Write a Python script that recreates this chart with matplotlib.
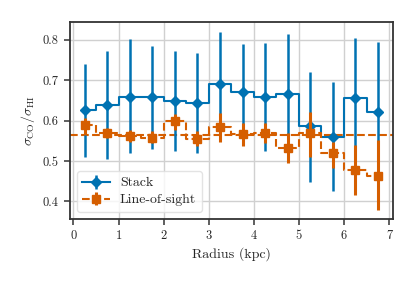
import matplotlib
matplotlib.use("Agg")
import matplotlib.pyplot as plt
import numpy as np

radius = [0.25, 0.75, 1.25, 1.75, 2.25, 2.75, 3.25, 3.75, 4.25, 4.75, 5.25, 5.75, 6.25, 6.75]

stack_val = [0.625, 0.639, 0.659, 0.658, 0.649, 0.643, 0.690, 0.671, 0.659, 0.666, 0.587, 0.559, 0.655, 0.622]
stack_hi = [0.740, 0.772, 0.801, 0.784, 0.772, 0.766, 0.820, 0.789, 0.791, 0.813, 0.721, 0.695, 0.805, 0.794]
stack_lo = [0.511, 0.505, 0.519, 0.529, 0.525, 0.519, 0.560, 0.550, 0.524, 0.520, 0.449, 0.425, 0.500, 0.450]

los_val = [0.589, 0.569, 0.563, 0.557, 0.600, 0.554, 0.585, 0.567, 0.569, 0.532, 0.569, 0.519, 0.477, 0.463]
los_hi = [0.606, 0.581, 0.577, 0.573, 0.617, 0.573, 0.618, 0.594, 0.594, 0.569, 0.622, 0.548, 0.540, 0.552]
los_lo = [0.565, 0.557, 0.548, 0.544, 0.577, 0.536, 0.548, 0.536, 0.544, 0.495, 0.511, 0.482, 0.416, 0.379]

los_mean = 0.565

x_ticks = [0, 1, 2, 3, 4, 5, 6, 7]
y_ticks = [0.4, 0.5, 0.6, 0.7, 0.8]

plt.rcParams['font.family'] = 'serif'
plt.rcParams['font.serif'] = ['cmr10']
plt.rcParams['mathtext.fontset'] = 'cm'
plt.rcParams['axes.formatter.use_mathtext'] = True

blue = '#0072B2'
orange = '#D55E00'
textc = '#262626'

fig = plt.figure(figsize=(4.16, 2.85), dpi=100)
ax = fig.add_axes([0.168, 0.232, 0.777, 0.690])

ax.grid(True, color='#d0d0d0', linewidth=1.0, zorder=0)
ax.set_axisbelow(True)

sv = np.array(stack_val)
lv = np.array(los_val)
s_err = [sv - np.array(stack_lo), np.array(stack_hi) - sv]
l_err = [lv - np.array(los_lo), np.array(los_hi) - lv]

ax.errorbar(radius, stack_val, yerr=s_err, color=blue, marker='D', markersize=5.5,
            linewidth=1.5, elinewidth=1.8, drawstyle='steps-mid', capsize=0,
            label='Stack', zorder=3)
ax.errorbar(radius, los_val, yerr=l_err, color=orange, marker='s', markersize=5.5,
            linewidth=1.5, elinewidth=2.2, drawstyle='steps-mid', linestyle='--',
            capsize=0, label='Line-of-sight', zorder=4)
ax.axhline(los_mean, color=orange, linestyle='--', linewidth=1.5, zorder=2)

ax.set_xlim(-0.08, 7.09)
ax.set_ylim(0.357, 0.843)
ax.set_xticks(x_ticks)
ax.set_yticks(y_ticks)
ax.set_xticklabels([str(t) for t in x_ticks])
ax.set_yticklabels(['%.1f' % t for t in y_ticks])

for s in ax.spines.values():
    s.set_color('#333333')
    s.set_linewidth(1.3)
ax.tick_params(direction='out', length=4, width=1.1, color='#333333',
               labelsize=9, labelcolor=textc, pad=4)

ax.set_xlabel('Radius (kpc)', fontsize=10, color=textc, labelpad=4)
ax.set_ylabel(r'$\sigma_{\rm CO}/\sigma_{\rm HI}$', fontsize=10, color=textc, labelpad=4)

leg = ax.legend(loc='lower left', fontsize=10, frameon=True, fancybox=True,
                framealpha=0.8, edgecolor='#dddddd', handlelength=2.0,
                handletextpad=0.7, borderpad=0.4, labelspacing=0.3)
for t in leg.get_texts():
    t.set_color(textc)

fig.savefig('out.png', dpi=100)
